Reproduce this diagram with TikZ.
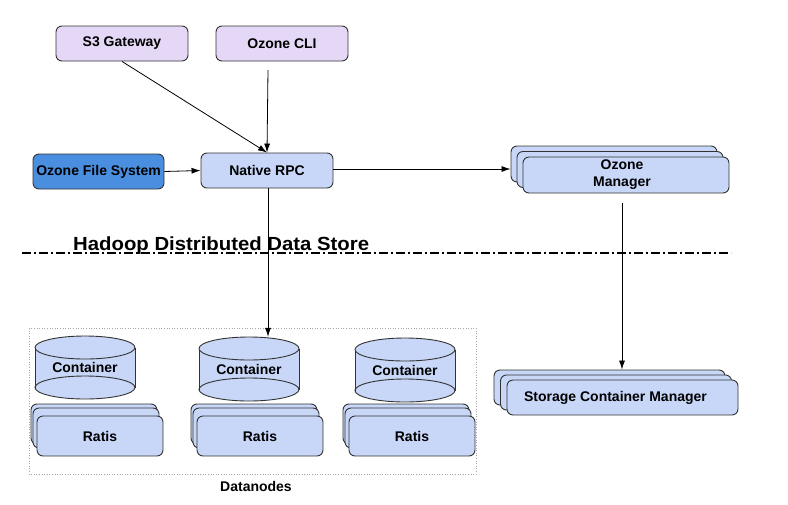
\documentclass[tikz,border=0pt]{standalone}
\usepackage{fontspec}
\setmainfont{Liberation Sans}
\usetikzlibrary{arrows.meta}
\definecolor{lav}{HTML}{E4D8F6}
\definecolor{lblue}{HTML}{C8D7F7}
\definecolor{dblue}{HTML}{4A8EE0}
\definecolor{edge}{HTML}{333333}
\newcommand\mycyl[3]{% center x, top y, bottom y
  \fill[lblue] (#1-50,#2) rectangle (#1+50,#3);
  \draw[edge,fill=lblue,line width=0.9pt] (#1,#3) ellipse [x radius=50,y radius=11.5];
  \fill[lblue] (#1-50,#2) rectangle (#1+50,#3-2);
  \draw[edge,line width=0.9pt] (#1-50,#2) -- (#1-50,#3) (#1+50,#2) -- (#1+50,#3);
  \draw[edge,line width=0.9pt] (#1-50,#3) arc[start angle=180,end angle=0,x radius=50,y radius=-11.5];
  \draw[edge,fill=lblue,line width=0.9pt] (#1,#2) ellipse [x radius=50,y radius=11.5];
}
\begin{document}
\begin{tikzpicture}[x=1pt,y=-1pt,
  box/.style={draw=edge,line width=0.9pt,rounded corners=6pt,font=\fontsize{14}{16}\selectfont\bfseries,inner sep=0pt,align=center},
  arr/.style={-{Latex[length=9pt,width=6pt]},line width=0.8pt}]
\useasboundingbox (0,0) rectangle (788,504);
% top boxes
\node[box,fill=lav,minimum width=132pt,minimum height=35pt] (s3) at (122,43.5) {S3 Gateway};
\node[box,fill=lav,minimum width=132pt,minimum height=35pt] (cli) at (282,43.5) {Ozone CLI};
\coordinate (clibot) at (268,70);
\node[box,fill=dblue,minimum width=131pt,minimum height=35pt] (ofs) at (98.5,171.5) {Ozone File System};
\node[box,fill=lblue,minimum width=132pt,minimum height=35pt] (rpc) at (267,170.5) {Native RPC};
% Ozone manager stack
\node[box,fill=lblue,minimum width=206pt,minimum height=36pt] (om1) at (614,164) {};
\node[box,fill=lblue,minimum width=206pt,minimum height=36pt] (om2) at (620,169.5) {};
\node[box,fill=lblue,minimum width=206pt,minimum height=36pt] (om) at (626,175) {\hspace*{-8pt}Ozone\\[1pt]\hspace*{-8pt}Manager};
% SCM stack
\node[box,fill=lblue,minimum width=231pt,minimum height=35pt] (scm1) at (609.5,387.5) {};
\node[box,fill=lblue,minimum width=231pt,minimum height=35pt] (scm2) at (616,392.5) {};
\node[box,fill=lblue,minimum width=231pt,minimum height=35pt] (scm) at (622.5,397.5) {\hspace*{-14pt}Storage Container Manager};
% Hadoop line
\coordinate (hl) at (22,253);
\coordinate (hr) at (731,253);
\draw[line width=1.4pt,dash pattern=on 9pt off 3pt on 2pt off 3pt] (hl) -- (hr);
\node[anchor=base west,inner sep=0pt,font=\fontsize{19}{20}\selectfont\bfseries\addfontfeature{FakeStretch=1.07}] (hd) at (73,250) {Hadoop Distributed Data Store};
% Datanodes
\draw[gray!70,line width=0.6pt,dotted] (29,328) rectangle (476,474);
\node[font=\fontsize{14}{16}\selectfont\bfseries] (dnl) at (256,486) {Datanodes};
\mycyl{85}{347.5}{387.5}
\mycyl{249}{348.5}{389.5}
\mycyl{405}{349.5}{390.5}
\node[inner sep=0pt,minimum width=100pt,minimum height=64pt,font=\fontsize{14}{16}\selectfont\bfseries] (c1) at (85,367.5) {Container};
\node[inner sep=0pt,minimum width=100pt,minimum height=64pt,font=\fontsize{14}{16}\selectfont\bfseries] (c2) at (249,369) {Container};
\node[inner sep=0pt,minimum width=100pt,minimum height=64pt,font=\fontsize{14}{16}\selectfont\bfseries] (c3) at (405,370) {Container};
% Ratis stacks
\foreach \cx/\nm in {100/r1,260/r2,412/r3}{
  \node[box,fill=lblue,minimum width=126pt,minimum height=40pt] at (\cx-6,424) {};
  \node[box,fill=lblue,minimum width=126pt,minimum height=40pt] at (\cx-4,428) {};
  \node[box,fill=lblue,minimum width=126pt,minimum height=40pt] (\nm) at (\cx,436) {Ratis};
}
% arrows
\coordinate (rpcb) at (268,188);
\draw[arr] (s3.south) -- (rpc.north);
\draw[arr] (clibot) -- (rpc.north);
\draw[arr] (ofs.east) -- (rpc.west);
\draw[arr] (rpc.east |- 0,169) -- (om1.west |- 0,169);
\draw[arr] (rpcb) -- (rpcb |- c2.north);
\coordinate (omb) at (622,203);
\draw[arr] (omb) -- (scm1.north -| omb);
\end{tikzpicture}
\end{document}
